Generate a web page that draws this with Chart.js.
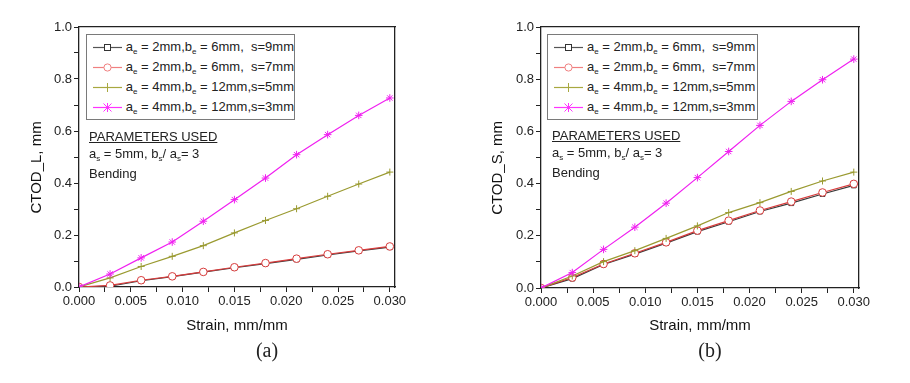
<!DOCTYPE html>
<html>
<head>
<title>CTOD vs Strain</title>
<script src="https://cdn.jsdelivr.net/npm/chart.js"></script>
<style>
    body { margin: 0; background: #fff; font-family: "Liberation Sans", Arial, sans-serif; color: #222; }
    #wrap { position: relative; width: 910px; height: 383px; }
    .panel { position: absolute; top: 0; width: 455px; height: 383px; }
    .legend { position: absolute; border: 1px solid #7a7a7a; background: #fff; font-size: 13px; padding: 2px 0 0 0; }
    .legend .row { height: 20px; line-height: 20px; white-space: nowrap; display: flex; align-items: center; }
    .legend svg { margin: 0 4px 0 6px; }
    sub { font-size: 8px; vertical-align: -3px; line-height: 0; }
    .params { position: absolute; font-size: 13px; line-height: 17px; }
    .params u { text-decoration-thickness: 1px; }
    .cap { position: absolute; font-family: "Liberation Serif", "Times New Roman", serif; font-size: 20px; transform: translate(-50%, -50%); }
</style>
</head>
<body>
<div id="wrap">
    <div class="panel" style="left:0"><canvas id="chartA" width="455" height="383"></canvas></div>
    <div class="panel" style="left:455px"><canvas id="chartB" width="455" height="383"></canvas></div>

    <div class="legend" id="legA" style="left:86px; top:34px; width:207px; height:82px;"></div>
    <div class="legend" id="legB" style="left:547px; top:34px; width:209px; height:82px;"></div>

    <div class="params" style="left:89px; top:128px;">
        <u>PARAMETERS USED</u><br>a<sub>s</sub> = 5mm, b<sub>s</sub>/ a<sub>s</sub>= 3<br><span style="position:relative; top:3px">Bending</span>
    </div>
    <div class="params" style="left:552px; top:127px;">
        <u>PARAMETERS USED</u><br>a<sub>s</sub> = 5mm, b<sub>s</sub>/ a<sub>s</sub>= 3<br><span style="position:relative; top:3px">Bending</span>
    </div>

    <div class="cap" style="left:267px; top:350px;">(a)</div>
    <div class="cap" style="left:710px; top:350px;">(b)</div>
</div>

<script>
    // strain values shared by both panels
    var strain = [0, 0.003, 0.006, 0.009, 0.012, 0.015, 0.018, 0.021, 0.024, 0.027, 0.030];

    // panel (a) CTOD_L
    var aS9 = [0, 0.003, 0.024, 0.040, 0.057, 0.074, 0.090, 0.106, 0.123, 0.139, 0.153];
    var aS7 = [0, 0.006, 0.026, 0.041, 0.058, 0.076, 0.092, 0.109, 0.126, 0.141, 0.156];
    var aS5 = [0, 0.035, 0.079, 0.118, 0.159, 0.208, 0.256, 0.301, 0.349, 0.396, 0.442];
    var aS3 = [0, 0.050, 0.112, 0.173, 0.253, 0.336, 0.419, 0.509, 0.586, 0.660, 0.727];

    // panel (b) CTOD_S
    var bS9 = [0, 0.036, 0.090, 0.130, 0.172, 0.216, 0.254, 0.293, 0.325, 0.360, 0.393];
    var bS7 = [0, 0.040, 0.092, 0.133, 0.175, 0.220, 0.258, 0.297, 0.331, 0.366, 0.399];
    var bS5 = [0, 0.046, 0.101, 0.143, 0.190, 0.238, 0.289, 0.327, 0.370, 0.410, 0.444];
    var bS3 = [0, 0.059, 0.148, 0.233, 0.325, 0.423, 0.523, 0.623, 0.715, 0.798, 0.877];

    var seriesNames = [
        "a<sub>e</sub> = 2mm,b<sub>e</sub> = 6mm,&nbsp;&nbsp;s=9mm",
        "a<sub>e</sub> = 2mm,b<sub>e</sub> = 6mm,&nbsp;&nbsp;s=7mm",
        "a<sub>e</sub> = 4mm,b<sub>e</sub> = 12mm,s=5mm",
        "a<sub>e</sub> = 4mm,b<sub>e</sub> = 12mm,s=3mm"
    ];
    var plainNames = ["ae = 2mm,be = 6mm,  s=9mm", "ae = 2mm,be = 6mm,  s=7mm", "ae = 4mm,be = 12mm,s=5mm", "ae = 4mm,be = 12mm,s=3mm"];
    var lineColors = ["#3a3a3a", "#d83c3c", "#9a9a30", "#f020f0"];
    var legendLine = ["#555555", "#f08080", "#a8a840", "#ff33ff"];
    var pointStyles = ["rect", "circle", "cross", "star"];
    var pointSizes = [3.4, 3.8, 3.5, 3.8];

    function toXY(ys) {
        return strain.map(function(x, i) { return { x: x, y: ys[i] }; });
    }

    function makeDatasets(lists) {
        return lists.map(function(ys, i) {
            return {
                label: plainNames[i],
                data: toXY(ys),
                borderColor: lineColors[i],
                borderWidth: 1.2,
                pointStyle: pointStyles[i],
                pointRadius: pointSizes[i],
                pointBorderWidth: 1,
                pointBorderColor: i == 0 ? "#333" : lineColors[i],
                pointBackgroundColor: (i < 2) ? "#fff" : lineColors[i],
                tension: 0,
                order: 4 - i
            };
        });
    }

    function makeChart(id, lists, yTitle, yWidth, padRight, xHeight, yTitlePad) {
        var tickFont = { family: "Liberation Sans", size: 13 };
        var titleFont = { family: "Liberation Sans", size: 15 };
        return new Chart(document.getElementById(id), {
            type: "line",
            data: { datasets: makeDatasets(lists) },
            options: {
                responsive: false,
                animation: false,
                layout: { padding: { top: 27, right: padRight, bottom: 0, left: 0 } },
                plugins: { legend: { display: false }, tooltip: { enabled: false } },
                scales: {
                    x: {
                        type: "linear",
                        position: "bottom",
                        min: 0,
                        max: 0.0305,
                        ticks: {
                            stepSize: 0.0025,
                            includeBounds: false,
                            autoSkip: false,
                            maxRotation: 0,
                            color: "#222",
                            font: tickFont,
                            padding: 2,
                            callback: function(v) {
                                var k = v / 0.005;
                                return Math.abs(k - Math.round(k)) < 1e-6 ? v.toFixed(3) : "";
                            }
                        },
                        grid: { drawOnChartArea: false, tickLength: 5, color: "#222", lineWidth: 1 },
                        border: { color: "#222", width: 1.3 },
                        title: { display: true, text: "Strain, mm/mm", color: "#111", font: titleFont, padding: { top: 0, bottom: 48 } },
                        afterFit: function(s) { s.height = xHeight; }
                    },
                    y: {
                        position: "left",
                        min: 0,
                        max: 1.0,
                        ticks: {
                            stepSize: 0.1,
                            autoSkip: false,
                            color: "#222",
                            font: tickFont,
                            padding: 2,
                            callback: function(v) {
                                var k = v / 0.2;
                                return Math.abs(k - Math.round(k)) < 1e-6 ? v.toFixed(1) : "";
                            }
                        },
                        grid: { drawOnChartArea: false, tickLength: 5, color: "#222", lineWidth: 1 },
                        border: { color: "#222", width: 1.3 },
                        // trailing spaces nudge the rotated title down to where the original sits
                        title: { display: true, text: yTitle + "\u00a0\u00a0\u00a0\u00a0\u00a0", color: "#111", font: titleFont, padding: { top: yTitlePad, bottom: 0 } },
                        afterFit: function(s) { s.width = yWidth; }
                    },
                    xTop: {
                        type: "linear",
                        position: "top",
                        min: 0,
                        max: 0.0305,
                        ticks: { display: false },
                        grid: { drawOnChartArea: false, tickLength: 0, color: "rgba(0,0,0,0)" },
                        border: { color: "#222", width: 1.3 },
                        afterFit: function(s) { s.height = 0; }
                    },
                    yRight: {
                        position: "right",
                        min: 0,
                        max: 1.0,
                        ticks: { display: false },
                        grid: { drawOnChartArea: false, tickLength: 0, color: "rgba(0,0,0,0)" },
                        border: { color: "#222", width: 1.3 },
                        afterFit: function(s) { s.width = 0; }
                    }
                }
            }
        });
    }

    function buildLegend(id) {
        var el = document.getElementById(id);
        var html = "";
        for (var i = 0; i < 4; i++) {
            var c = legendLine[i];
            var mark = "";
            if (i == 0) mark = '<rect x="11.5" y="4.5" width="6" height="6" fill="#fff" stroke="#333"/>';
            if (i == 1) mark = '<circle cx="14.5" cy="7.5" r="3.6" fill="#fff" stroke="' + c + '"/>';
            if (i == 2) mark = '<line x1="14.5" y1="3" x2="14.5" y2="12" stroke="' + c + '"/>';
            if (i == 3) mark = '<path d="M10.5 3.5L18.5 11.5M18.5 3.5L10.5 11.5M14.5 3L14.5 12" stroke="' + c + '"/>';
            html += '<div class="row"><svg width="29" height="15"><line x1="0" y1="7.5" x2="29" y2="7.5" stroke="' + c + '" stroke-width="1.2"/>' + mark + '</svg><span>' + seriesNames[i] + '</span></div>';
        }
        el.innerHTML = html;
    }

    makeChart("chartA", [aS9, aS7, aS5, aS3], "CTOD_L, mm", 79, 60, 96, 28);
    makeChart("chartB", [bS9, bS7, bS5, bS3], "CTOD_S, mm", 86, 51, 95, 34);
    buildLegend("legA");
    buildLegend("legB");
</script>
</body>
</html>
